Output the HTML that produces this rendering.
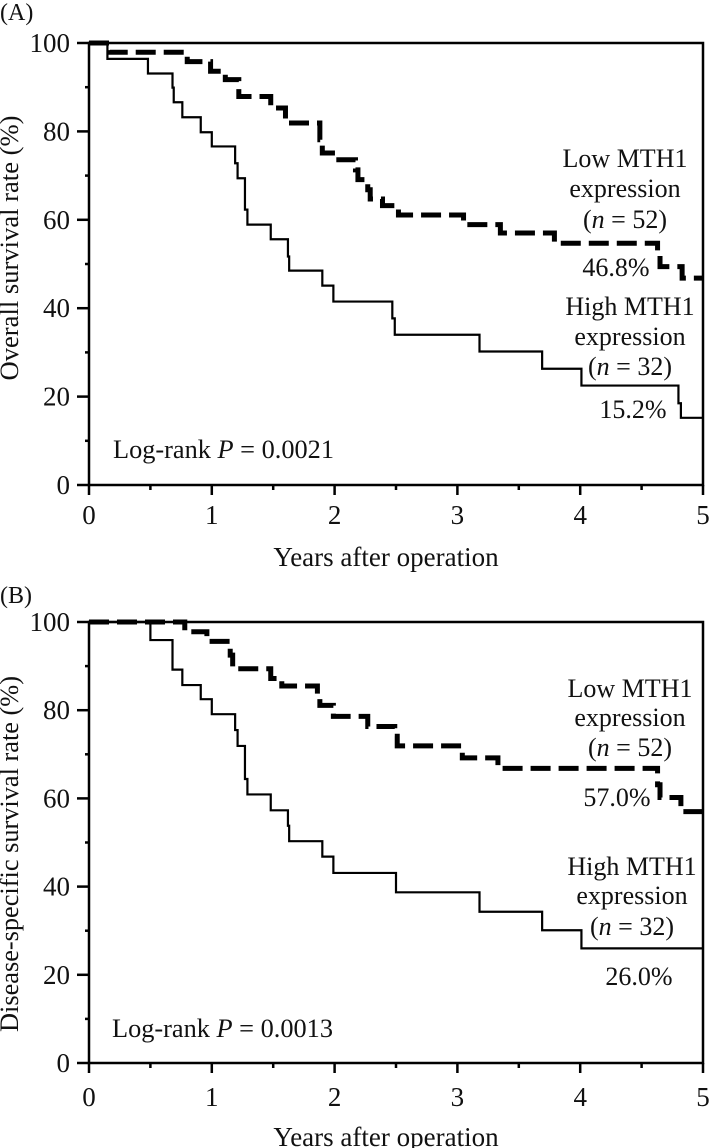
<!DOCTYPE html>
<html><head><meta charset="utf-8"><style>
html,body{margin:0;padding:0;background:#fff;}
svg{display:block;}
text{font-family:"Liberation Serif",serif;fill:#111;}
</style></head><body>
<svg id="chart" width="709" height="1148" viewBox="0 0 709 1148" xmlns="http://www.w3.org/2000/svg">
<g id="panelA"></g>
<g id="panelB"></g>
</svg>
<script>
// Panel A data (years, survival %)
const aHighTimes = [0, 0.15, 0.48, 0.68, 0.69, 0.76, 0.91, 1.0, 1.19, 1.21, 1.27, 1.29, 1.48, 1.62, 1.63, 1.90, 1.99, 2.47, 2.49, 3.18, 3.69, 4.01, 4.80, 4.82];
const aHighSurv  = [100, 96.4, 93.1, 89.9, 86.6, 83.2, 79.8, 76.6, 72.8, 69.4, 62.3, 58.9, 55.6, 51.7, 48.5, 45.1, 41.5, 37.7, 34.0, 30.2, 26.3, 22.5, 18.5, 15.2];
const aLowTimes  = [0, 0.17, 0.80, 0.99, 1.11, 1.22, 1.48, 1.60, 1.88, 1.90, 2.01, 2.17, 2.19, 2.27, 2.29, 2.39, 2.52, 3.05, 3.35, 3.79, 4.63, 4.65, 4.83];
const aLowSurv   = [100, 97.9, 95.8, 93.6, 91.7, 87.9, 85.3, 81.9, 78.1, 75.1, 73.6, 71.3, 69.1, 66.8, 64.7, 63.2, 61.1, 58.9, 57.0, 54.7, 52.1, 49.4, 46.8];
// Panel B data
const bHighTimes = [0, 0.50, 0.68, 0.76, 0.91, 1.0, 1.19, 1.21, 1.27, 1.29, 1.48, 1.62, 1.63, 1.90, 1.99, 2.50, 3.18, 3.69, 4.01];
const bHighSurv  = [100, 95.9, 89.2, 85.7, 82.5, 79.1, 75.5, 71.9, 64.4, 60.9, 57.3, 53.8, 50.3, 46.8, 43.1, 38.7, 34.3, 30.1, 26.0];
const bLowTimes  = [0, 0.78, 0.96, 1.15, 1.17, 1.48, 1.57, 1.86, 1.88, 1.99, 2.27, 2.49, 2.51, 3.04, 3.33, 4.63, 4.65, 4.82];
const bLowSurv   = [100, 97.8, 95.6, 92.5, 89.4, 87.2, 85.5, 82.8, 81.1, 78.6, 76.3, 74.1, 71.9, 69.2, 66.8, 63.1, 60.2, 57.0];
const xTickLabels = ["0","1","2","3","4","5"];
const yTickLabels = ["0","20","40","60","80","100"];

const NS = "http://www.w3.org/2000/svg";
function mk(parent, tag, attrs, txt){
  const e = document.createElementNS(NS, tag);
  for (const k in attrs) e.setAttribute(k, attrs[k]);
  if (txt !== undefined) e.textContent = txt;
  parent.appendChild(e); return e;
}

function panel(g, cfg){
  const X0 = 89, X1 = 703;
  const xs = t => X0 + (t/5)*(X1-X0);
  const ys = v => cfg.y0 + (v/100)*(cfg.y100-cfg.y0);

  let t = mk(g,'text',{x:0,y:cfg.labelY,'font-size':24}, cfg.letter);
  
  

  let box = mk(g,'path',{d:`M${X0},${ys(0)} L${X0},${ys(100)} L${X1},${ys(100)} L${X1},${ys(0)} Z`,fill:'none',stroke:'#000','stroke-width':2.5});
  
  

  for (let v=0; v<=100; v+=10){
    const major = v%20===0;
    let tk = mk(g,'line',{x1: major?X0-12:X0-4, x2:X0, y1:ys(v), y2:ys(v), stroke:'#000','stroke-width':2.5});
    
    
  }
  yTickLabels.forEach(l=>{
    let tl = mk(g,'text',{x:70,y:ys(+l)+9,'text-anchor':'end','font-size':27}, l);
    
    
  });
  for (let i=0;i<=10;i++){
    const v=i/2, major = i%2===0;
    let tk = mk(g,'line',{x1:xs(v),x2:xs(v),y1:ys(0),y2:ys(0)+(major?10:5),stroke:'#000','stroke-width':2.5});
    
    
  }
  xTickLabels.forEach(l=>{
    let tl = mk(g,'text',{x:xs(+l),y:cfg.xLabY,'text-anchor':'middle','font-size':27}, l);
    
    
  });
  let xt = mk(g,'text',{x:386,y:cfg.xTitleY,'text-anchor':'middle','font-size':27},'Years after operation');
  
  
  let yt = mk(g,'text',{x:0,y:0,'text-anchor':'middle','font-size':26,textLength:cfg.yTitleLen,lengthAdjust:'spacingAndGlyphs',transform:`translate(18,${cfg.yTitleY}) rotate(-90)`}, cfg.yTitle);
  
  

  function stepPath(ts, vs){
    let d = `M${xs(ts[0])},${ys(vs[0])}`;
    for (let i=1;i<ts.length;i++){
      d += ` L${xs(ts[i])},${ys(vs[i-1])} L${xs(ts[i])},${ys(vs[i])}`;
    }
    d += ` L${xs(5)},${ys(vs[vs.length-1])}`;
    return d;
  }
  let hp = mk(g,'path',{d:stepPath(cfg.hT,cfg.hS),fill:'none',stroke:'#000','stroke-width':2.2});
  
  
  let lp = mk(g,'path',{d:stepPath(cfg.lT,cfg.lS),fill:'none',stroke:'#000','stroke-width':5,'stroke-dasharray':'20 8'});
  
  

  cfg.texts.forEach(o=>{
    let e = mk(g,'text',{x:o.x,y:o.y,'text-anchor':o.a||'middle','font-size':26});
    if (o.n){
      e.appendChild(document.createTextNode('('));
      mk(e,'tspan',{'font-style':'italic'},'n');
      e.appendChild(document.createTextNode(' = '+o.n+')'));
    } else if (o.p){
      e.setAttribute('textLength','221');
      e.setAttribute('lengthAdjust','spacingAndGlyphs');
      e.appendChild(document.createTextNode('Log-rank '));
      mk(e,'tspan',{'font-style':'italic'},'P');
      e.appendChild(document.createTextNode(' = '+o.p));
    } else e.textContent = o.t;
    
    
  });
}

panel(document.getElementById('panelA'), {
  letter:'(A)', labelY:20, y100:43, y0:485, xLabY:524, xTitleY:566,
  yTitle:'Overall survival rate (%)', yTitleY:248, yTitleLen:265,
  hT:aHighTimes, hS:aHighSurv, lT:aLowTimes, lS:aLowSurv,
  texts:[
    {x:625,y:167,t:'Low MTH1',name:'low-mth1-label'},
    {x:625,y:197,t:'expression',name:'low-mth1-label'},
    {x:625,y:228,n:'52',name:'low-mth1-n'},
    {x:616,y:276,t:'46.8%',name:'low-mth1-final-rate'},
    {x:630,y:315,t:'High MTH1',name:'high-mth1-label'},
    {x:630,y:345,t:'expression',name:'high-mth1-label'},
    {x:630,y:375,n:'32',name:'high-mth1-n'},
    {x:633,y:418,t:'15.2%',name:'high-mth1-final-rate'},
    {x:113,y:458,a:'start',p:'0.0021',name:'log-rank-p-value'}
  ]
});
panel(document.getElementById('panelB'), {
  letter:'(B)', labelY:603, y100:622, y0:1063, xLabY:1106, xTitleY:1146,
  yTitle:'Disease-specific survival rate (%)', yTitleY:854, yTitleLen:356,
  hT:bHighTimes, hS:bHighSurv, lT:bLowTimes, lS:bLowSurv,
  texts:[
    {x:630,y:697,t:'Low MTH1',name:'low-mth1-label'},
    {x:630,y:726,t:'expression',name:'low-mth1-label'},
    {x:630,y:756,n:'52',name:'low-mth1-n'},
    {x:617,y:806,t:'57.0%',name:'low-mth1-final-rate'},
    {x:632,y:875,t:'High MTH1',name:'high-mth1-label'},
    {x:632,y:904,t:'expression',name:'high-mth1-label'},
    {x:632,y:935,n:'32',name:'high-mth1-n'},
    {x:639,y:985,t:'26.0%',name:'high-mth1-final-rate'},
    {x:112,y:1037,a:'start',p:'0.0013',name:'log-rank-p-value'}
  ]
});
</script>
</body></html>
